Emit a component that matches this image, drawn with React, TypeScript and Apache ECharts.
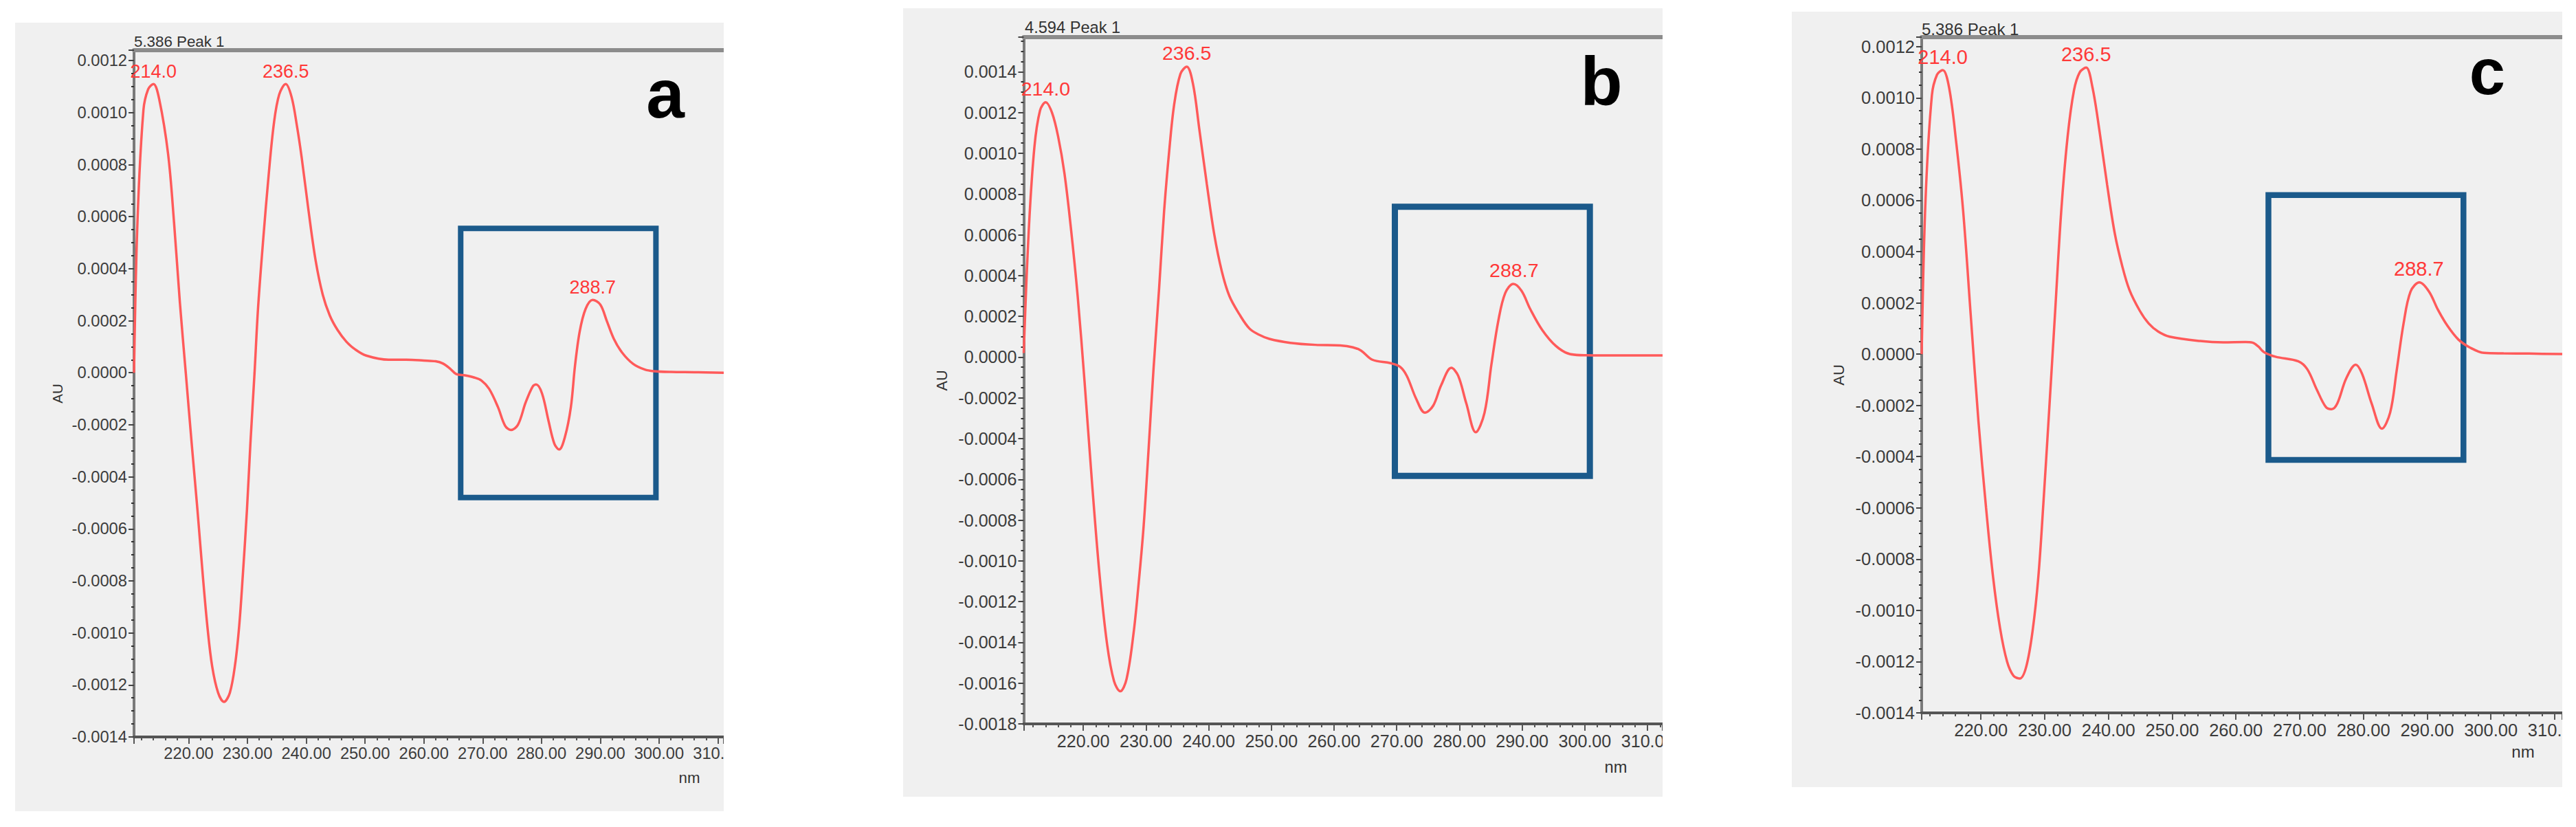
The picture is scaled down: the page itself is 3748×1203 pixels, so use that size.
import React, { useEffect, useRef } from "react";
import * as echarts from "echarts";

// ---------- data ----------
const nmA = [
  210.7, 211.3, 212.3, 213.1, 214.0, 215.0, 216.5, 217.5, 218.5, 219.5, 220.5, 221.5, 222.4, 223.2, 224.0,
  225.0, 226.0, 227.0, 227.9, 228.6, 229.2, 229.9, 230.5, 231.2, 231.8, 232.7, 233.6, 234.5, 235.4, 236.5,
  237.5, 238.4, 239.2, 240.4, 241.6, 242.8, 244.0, 245.3, 246.8, 248.3, 250.2, 254.0, 257.0, 260.0, 262.0,
  263.2, 264.5, 265.5, 267.0, 268.5, 269.8, 271.1, 272.6, 273.8, 274.8, 276.0, 277.3, 278.5, 279.1, 280.1,
  281.2, 282.2, 283.0, 284.0, 285.0, 285.7, 286.5, 287.5, 288.7, 290.0, 291.1, 292.3, 293.7, 295.6, 297.6,
  299.1, 302.0, 306.0, 311.0,
];
const auA = [
  0.0, 0.00059, 0.00101, 0.00109, 0.00111, 0.00105, 0.00084, 0.00058, 0.00027, 0.0, -0.00027, -0.00053, -0.00078, -0.00098, -0.00113,
  -0.00123, -0.001265, -0.00123, -0.00112, -0.00097, -0.00078, -0.00053, -0.00027, 0.0, 0.00025, 0.00052, 0.00076, 0.00096, 0.00107, 0.00111,
  0.00106, 0.00095, 0.00083, 0.00062, 0.00043, 0.0003, 0.00022, 0.000165, 0.00012, 0.00009, 0.000066, 0.00005, 0.00005, 0.000047, 0.000044,
  0.000036, 0.000015, -0.000005, -0.00001, -0.000018, -0.00003, -0.000062, -0.000132, -0.000203, -0.00022, -0.0002, -0.000115, -0.000053, -0.000045, -0.00008,
  -0.000185, -0.000273, -0.000295, -0.000246, -0.000132, 0.000026, 0.000158, 0.000245, 0.00028, 0.000262, 0.0002, 0.000131, 0.000078, 0.000034, 0.000012,
  0.000006, 0.000003, 0.000002, 0.0,
];

const nmB = [
  210.5, 211.3, 212.2, 213.1, 214.0, 215.0, 216.0, 217.0, 218.0, 219.1, 220.2, 221.4, 222.6, 223.8, 224.9,
  225.9, 226.9, 228.0, 228.8, 229.6, 230.4, 231.2, 232.1, 232.9, 233.7, 234.5, 235.5, 236.5, 237.5, 238.5,
  239.7, 240.9, 242.1, 243.3, 244.9, 246.5, 248.0, 249.7, 253.0, 257.0, 261.0, 263.0, 264.3, 266.1, 269.0,
  270.5, 271.6, 273.1, 274.5, 275.8, 277.1, 278.7, 279.8, 281.1, 282.6, 284.0, 285.1, 286.2, 287.3, 288.6,
  289.9, 291.3, 293.2, 295.4, 297.6, 300.2, 306.0, 312.4,
];
const auB = [
  0.00002, 0.00062, 0.00103, 0.00121, 0.00125, 0.0012, 0.00108, 0.0009, 0.00064, 0.0003, -0.00012, -0.00062, -0.00107, -0.00141, -0.00159,
  -0.00164, -0.00158, -0.00136, -0.00112, -0.00084, -0.00046, -0.00006, 0.00034, 0.00072, 0.00101, 0.00124, 0.00139, 0.001425, 0.00134, 0.00112,
  0.00085, 0.0006, 0.00042, 0.0003, 0.00021, 0.00014, 0.00011, 0.000089, 0.00007, 0.00006, 0.000057, 0.000048, 0.000032, -0.000013, -0.00003,
  -0.000047, -0.000092, -0.000205, -0.000273, -0.000239, -0.000137, -0.000053, -0.000092, -0.000228, -0.000369, -0.000273, -0.000036, 0.000178, 0.000314, 0.000359,
  0.000325, 0.000235, 0.000133, 0.000054, 0.000015, 0.000009, 0.000008, 0.000008,
];

const nmC = [
  210.7, 211.3, 212.3, 213.1, 214.0, 215.0, 216.1, 217.2, 218.4, 219.6, 220.8, 221.9, 223.0, 224.1, 225.1,
  226.1, 227.1, 228.1, 229.0, 229.8, 230.6, 231.6, 232.6, 233.6, 234.6, 235.5, 236.5, 237.5, 238.6, 239.8,
  241.0, 242.2, 243.3, 244.9, 246.3, 247.8, 249.6, 254.4, 258.0, 261.5, 262.6, 263.5, 264.4, 266.2, 269.8,
  271.2, 272.7, 274.1, 275.0, 275.9, 277.3, 278.8, 279.8, 281.3, 282.9, 284.2, 285.2, 286.3, 287.4, 288.8,
  290.3, 291.7, 293.2, 294.9, 296.7, 298.9, 302.0, 306.0, 311.2,
];
const auC = [
  0.0, 0.0006, 0.00101, 0.00109, 0.001108, 0.00104, 0.00083, 0.00056, 0.00015, -0.00026, -0.0006, -0.00087, -0.00107, -0.0012, -0.001255,
  -0.001266, -0.00122, -0.00108, -0.00087, -0.00058, -0.00026, 0.00015, 0.00056, 0.00085, 0.00103, 0.0011, 0.001118, 0.00104, 0.00087, 0.00066,
  0.00047, 0.00034, 0.00025, 0.00017, 0.00012, 0.000088, 0.000068, 0.000051, 0.000046, 0.000047, 0.000045, 0.00003, 0.000008, -0.00001, -0.000028,
  -0.000059, -0.000139, -0.000206, -0.000215, -0.000193, -0.000095, -0.000041, -0.000077, -0.000193, -0.000291, -0.000228, -0.000068, 0.000119, 0.000244, 0.00028,
  0.000244, 0.000173, 0.00011, 0.000057, 0.000026, 0.000005, 0.000003, 0.000002, 0.0,
];

const peakNm = [214.0, 236.5, 288.7];
const peakAuA = [0.00111, 0.00111, 0.00028];
const peakAuB = [0.00125, 0.001425, 0.000359];
const peakAuC = [0.001108, 0.001118, 0.00028];

// highlighted region: [nm from, AU top, nm to, AU bottom]
const boxA = [266.26, 0.000555, 299.47, -0.00048];
const boxB = [269.7, 0.000738, 300.8, -0.000583];
const boxC = [265.1, 0.000621, 295.7, -0.000413];

const xRangeA = [210.7, 311.0];
const xRangeB = [210.5, 312.4];
const xRangeC = [210.7, 311.2];
const yRangeA = [-0.0014, 0.00124];
const yRangeB = [-0.0018, 0.00157];
const yRangeC = [-0.0014, 0.001237];

const titles = ["5.386 Peak 1", "4.594 Peak 1", "5.386 Peak 1"];
const letters = ["a", "b", "c"];
const yTickStep = 0.0002;

// ---------- layout ----------
const FONT = '"Liberation Sans", Arial, Helvetica, sans-serif';

const panels = [
  {
    nm: nmA, au: auA, peakAu: peakAuA, box: boxA, xr: xRangeA, yr: yRangeA, title: titles[0], letter: letters[0],
    left: 22, top: 33, width: 1031, height: 1147, grid: [173, 40, 108], s: 0.93,
    titlePos: [173, 27], letterPos: [946, 103], letterSize: 100, nmPos: [981, 1098], auGap: 100, boxW: 8,
  },
  {
    nm: nmB, au: auB, peakAu: peakAuB, box: boxB, xr: xRangeB, yr: yRangeB, title: titles[1], letter: letters[1],
    left: 1314, top: 12, width: 1105, height: 1147, grid: [175.5, 42, 106], s: 0.985,
    titlePos: [177, 28], letterPos: [1016, 106], letterSize: 100, nmPos: [1037, 1104], auGap: 108, boxW: 9,
  },
  {
    nm: nmC, au: auC, peakAu: peakAuC, box: boxC, xr: xRangeC, yr: yRangeC, title: titles[2], letter: letters[2],
    left: 2607, top: 17, width: 1121, height: 1128, grid: [189, 37, 108], s: 1.0,
    titlePos: [189, 25], letterPos: [1012, 87], letterSize: 94, nmPos: [1064, 1076], auGap: 110, boxW: 8.5,
  },
];

function fmtY(v: number) {
  if (Math.abs(v) < 1e-10) return "0.0000";
  return v.toFixed(4);
}

function buildOption(p: any) {
  const s = p.s;
  return {
    animation: false,
    backgroundColor: "#f0f0f0",
    grid: {
      left: p.grid[0], top: p.grid[1], right: 0, bottom: p.grid[2],
      containLabel: false, outerBoundsMode: "none",
    },
    xAxis: [
      {
        type: "value", min: p.xr[0], max: p.xr[1], splitNumber: 10, position: "bottom",
        axisLine: { show: true, onZero: false, lineStyle: { color: "#555", width: 4 } },
        axisTick: { show: true, inside: false, length: 10, lineStyle: { color: "#555", width: 2 } },
        minorTick: { show: true, splitNumber: 5, length: 5, lineStyle: { color: "#555", width: 2 } },
        splitLine: { show: false },
        minorSplitLine: { show: false },
        axisLabel: {
          show: true, margin: 12, color: "#3c3c3c", fontSize: 25.5 * s, fontFamily: FONT,
          showMinLabel: false, showMaxLabel: false, hideOverlap: false,
          formatter: (v: number) => v.toFixed(2),
        },
      },
      {
        type: "value", min: p.xr[0], max: p.xr[1], position: "top",
        axisLine: { show: true, onZero: false, lineStyle: { color: "#8c8c8c", width: 6 } },
        axisTick: { show: false }, axisLabel: { show: false }, splitLine: { show: false },
      },
    ],
    yAxis: {
      type: "value", min: p.yr[0], max: p.yr[1], interval: yTickStep,
      name: "AU", nameLocation: "middle", nameGap: p.auGap,
      nameTextStyle: { color: "#333", fontSize: 22 * s, fontFamily: FONT },
      axisLine: { show: true, onZero: false, lineStyle: { color: "#7a7a7a", width: 4 } },
      axisTick: { show: true, inside: false, length: 8, lineStyle: { color: "#444", width: 2 } },
      minorTick: { show: true, splitNumber: 4, length: 4, lineStyle: { color: "#333", width: 2 } },
      splitLine: { show: false },
      minorSplitLine: { show: false },
      axisLabel: {
        show: true, margin: 10, color: "#3c3c3c", fontSize: 25.5 * s, fontFamily: FONT,
        showMaxLabel: false, formatter: fmtY,
      },
    },
    series: [
      {
        type: "line",
        data: p.nm.map((x: number, i: number) => [x, p.au[i]]),
        showSymbol: false,
        smooth: 0.35,
        lineStyle: { color: "#ff5a5a", width: 3.5 },
        z: 2,
        markPoint: {
          silent: true,
          symbol: "circle",
          symbolSize: 0,
          label: {
            show: true, position: "top", distance: 5, color: "#ff3838",
            fontSize: 29 * s, fontFamily: FONT, formatter: (q: any) => q.name,
          },
          data: peakNm.map((x, i) => ({ name: x.toFixed(1), coord: [x, p.peakAu[i]] })),
        },
      },
      {
        type: "line",
        data: [],
        z: 5,
        markArea: {
          silent: true,
          itemStyle: { color: "rgba(0,0,0,0)", borderColor: "#1b5a8b", borderWidth: p.boxW },
          data: [[{ coord: [p.box[0], p.box[1]] }, { coord: [p.box[2], p.box[3]] }]],
        },
      },
    ],
    graphic: [
      {
        type: "text", x: p.titlePos[0], y: p.titlePos[1], silent: true,
        style: { text: p.title, fill: "#333", fontSize: 24 * s, fontFamily: FONT, align: "left", verticalAlign: "middle" },
      },
      {
        type: "text", x: p.letterPos[0], y: p.letterPos[1], silent: true,
        style: {
          text: p.letter, fill: "#000", fontSize: p.letterSize, fontWeight: "bold", fontFamily: FONT,
          align: "center", verticalAlign: "middle",
        },
      },
      {
        type: "text", x: p.nmPos[0], y: p.nmPos[1], silent: true,
        style: { text: "nm", fill: "#333", fontSize: 24 * s, fontFamily: FONT, align: "center", verticalAlign: "middle" },
      },
    ],
  };
}

function Panel({ cfg }: { cfg: any }) {
  const ref = useRef<HTMLDivElement>(null);
  useEffect(() => {
    if (!ref.current) return;
    const chart = echarts.init(ref.current, null, { renderer: "svg" });
    chart.setOption(buildOption(cfg) as any);
    return () => chart.dispose();
  }, [cfg]);
  return (
    <div
      ref={ref}
      style={{ position: "absolute", left: cfg.left, top: cfg.top, width: cfg.width, height: cfg.height, overflow: "hidden" }}
    />
  );
}

export default function App() {
  return (
    <div style={{ position: "absolute", left: 0, top: 0, width: 3748, height: 1203, background: "#ffffff", overflow: "hidden" }}>
      {panels.map((p, i) => (
        <Panel key={i} cfg={p} />
      ))}
    </div>
  );
}
